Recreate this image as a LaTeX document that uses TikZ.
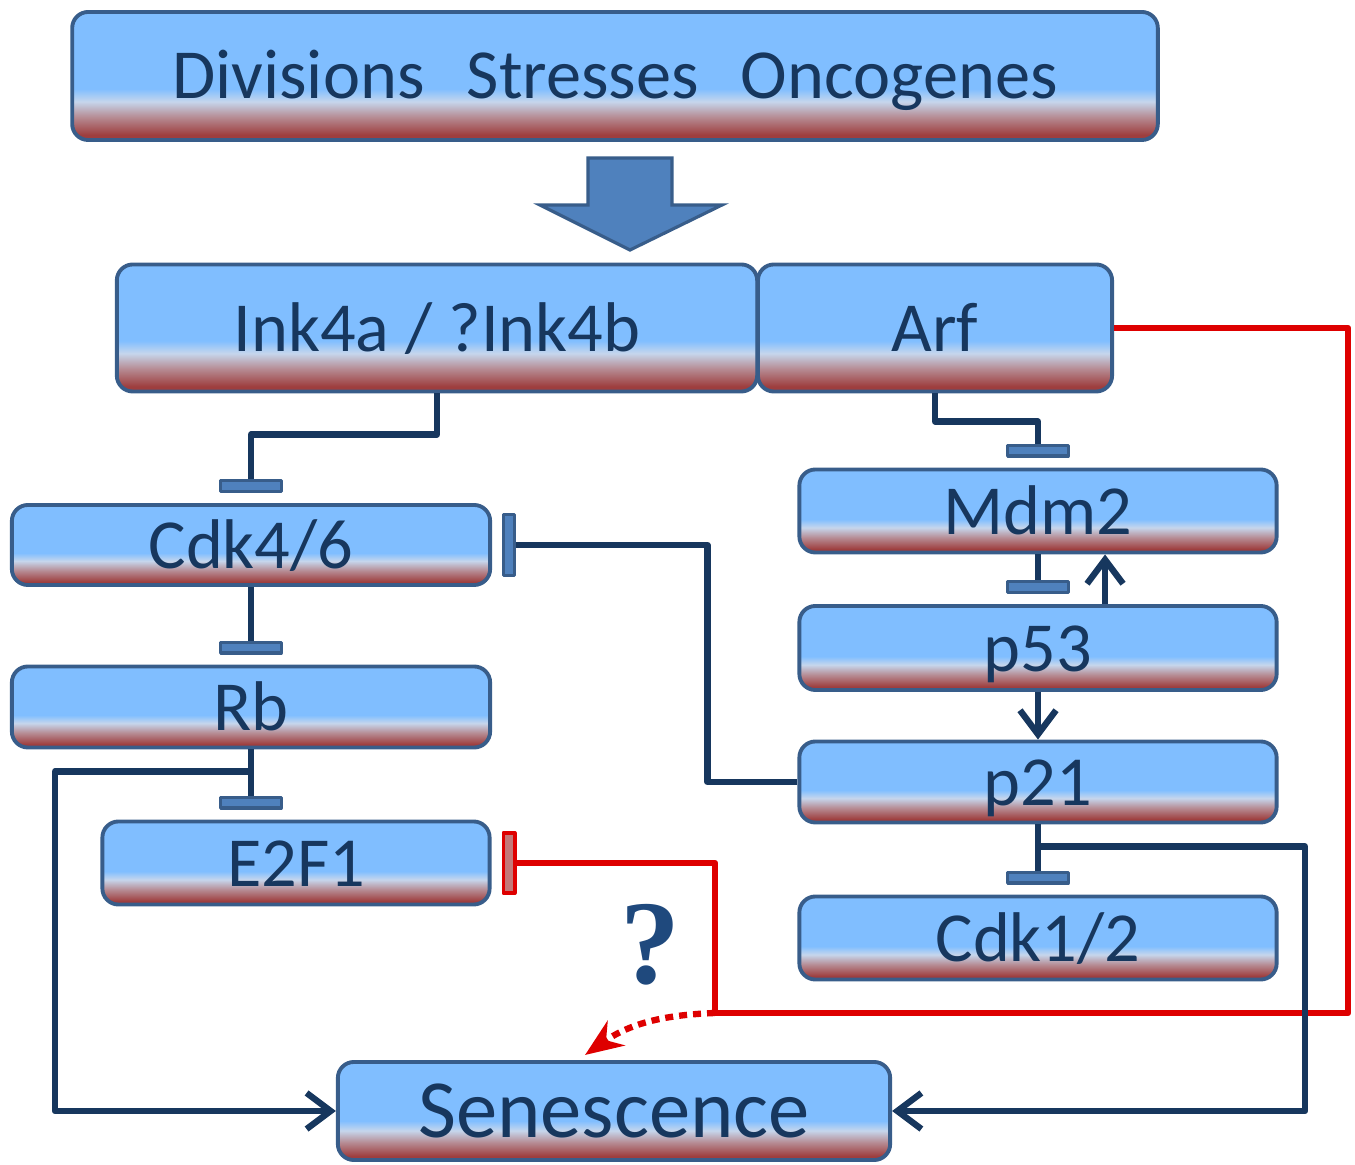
\documentclass[tikz,border=0pt]{standalone}
\usepackage{fontspec}
\newfontfamily\boxfont{Carlito}
\newfontfamily\qfont{Liberation Serif}
\usetikzlibrary{arrows.meta,calc}

\definecolor{boxtop}{RGB}{128,190,255}
\definecolor{boxpale}{RGB}{198,214,236}
\definecolor{boxmid}{RGB}{182,140,148}
\definecolor{boxred}{RGB}{158,62,62}
\definecolor{boxline}{RGB}{56,93,138}
\definecolor{inkcol}{RGB}{23,55,94}
\definecolor{barfill}{RGB}{79,129,189}
\definecolor{redlink}{RGB}{222,0,0}
\definecolor{redbar}{RGB}{196,120,120}
\definecolor{qcol}{RGB}{31,73,125}

\pgfdeclareverticalshading{boxshade}{100bp}{color(0bp)=(boxred); color(27bp)=(boxred); color(34bp)=(boxmid); color(40bp)=(boxpale); color(45bp)=(boxtop); color(100bp)=(boxtop)}

\begin{document}
\begin{tikzpicture}[x=0.01cm,y=-0.01cm,
  box/.style={draw=boxline,line width=1.1pt,rounded corners=0.16cm,shade,shading=boxshade,
    font=\boxfont\fontsize{20}{24}\selectfont,text=inkcol,text height=0.46cm,text depth=0cm,inner sep=0pt},
  link/.style={draw=inkcol,line width=1.8pt,line join=round},
  act/.style={link,-{Straight Barb[length=0.24cm,width=0.36cm]}},
  inh/.style={link,-{Rectangle[length=0.14cm,width=0.64cm,round,fill=barfill,color=boxline,line width=0.9pt]},shorten >=0.1cm},
  redinh/.style={draw=redlink,line width=1.8pt,line join=round,-{Rectangle[length=0.15cm,width=0.64cm,round,fill=redbar,color=redlink,line width=1.1pt]},shorten >=0.1cm},
  redq/.style={draw=redlink,line width=1.8pt,dash pattern=on 0.08cm off 0.06cm,-{Stealth[length=0.38cm,width=0.3cm]}},
  bigarrow/.style={fill=barfill,draw=boxline,line width=0.9pt,line join=miter}]
\useasboundingbox (0,0) rectangle (1355,1165);

\node[box,minimum width=10.85cm,minimum height=1.28cm] (top) at (615,76) {Divisions\hspace{0.6em}Stresses\hspace{0.6em}Oncogenes};
\node[box,minimum width=6.40cm,minimum height=1.27cm] (ink) at (437,328) {Ink4a / ?Ink4b};
\node[box,minimum width=3.54cm,minimum height=1.27cm] (arf) at (935,328) {Arf};
\node[box,minimum width=4.78cm,minimum height=0.80cm] (cdk46) at (251,545) {Cdk4/6};
\node[box,minimum width=4.78cm,minimum height=0.81cm] (rb) at (251,707) {Rb};
\node[box,minimum width=3.87cm,minimum height=0.83cm] (e2f) at (296,863) {E2F1};
\node[box,minimum width=4.77cm,minimum height=0.83cm] (mdm) at (1038,511) {Mdm2};
\node[box,minimum width=4.77cm,minimum height=0.84cm] (p53) at (1038,648) {p53};
\node[box,minimum width=4.77cm,minimum height=0.81cm] (p21) at (1038,782) {p21};
\node[box,minimum width=4.77cm,minimum height=0.83cm] (cdk12) at (1038,938) {Cdk1/2};
\node[box,minimum width=5.52cm,minimum height=0.98cm,font=\boxfont\fontsize{23.5}{28}\selectfont,text height=0.53cm] (sen) at (614,1111) {Senescence};

\coordinate (bigtip) at (630,250);
\filldraw[bigarrow] (bigtip) -- ++(-90,-45) -- ++(48,0) -- ++(0,-47) -- ++(84,0) -- ++(0,47) -- ++(50,0) -- cycle;

\coordinate (redturn) at (1348,1013);
\coordinate (redknee) at (715,1013);
\coordinate (qend) at (585,1055);
\draw[redinh] (arf.east) -| (redturn) -- (redknee) |- (e2f.east);
\draw[redq] (redknee) to[out=182,in=35] (qend);

\draw[inh] (ink.south) -- ++(0,41) -| (cdk46.north);
\draw[inh] (arf.south) -- ++(0,28) -| (mdm.north);
\draw[inh] (cdk46.south) -- (rb.north);
\draw[inh] (rb.south) -- (rb.south |- e2f.north);
\coordinate (rbj) at ($(rb.south)+(0,22)$);
\draw[act] (rbj) -- ++(-196,0) |- (sen.west);
\draw[inh] (mdm.south) -- (p53.north);
\draw[act] ([xshift=0.67cm]p53.north) -- ([xshift=0.67cm]mdm.south);
\draw[act] (p53.south) -- (p21.north);
\draw[inh] (p21.west) -- ++(-90,0) |- (cdk46.east);
\draw[inh] (p21.south) -- (cdk12.north);
\coordinate (p21j) at ($(p21.south)+(0,22)$);
\draw[act] (p21j) -- ++(267,0) |- (sen.east);

\node[font=\qfont\bfseries\fontsize{34}{34}\selectfont,text=qcol,inner sep=0pt] (qm) at (650,945) {?};
\end{tikzpicture}
\end{document}
